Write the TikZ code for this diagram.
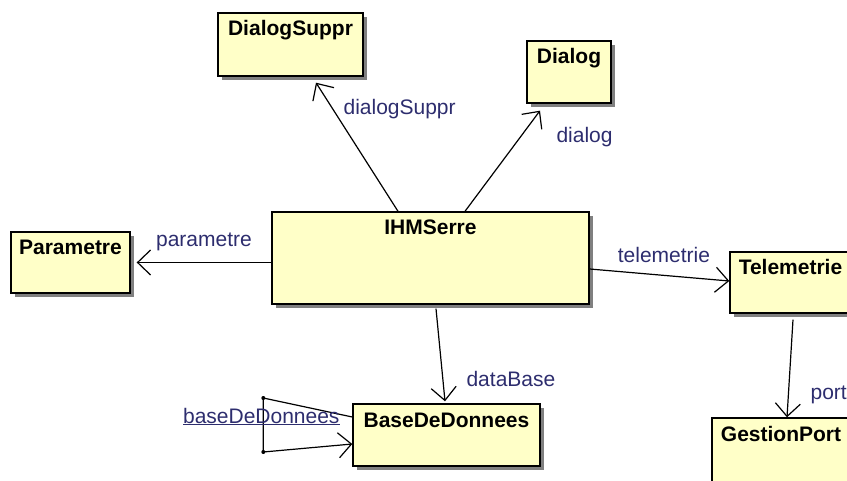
\documentclass[tikz,border=0pt]{standalone}
\usepackage{fontspec}
\setmainfont{Liberation Sans}
\usepackage{tikz}
\usetikzlibrary{arrows.meta,shadows}
\definecolor{jaune}{RGB}{255,255,200}
\definecolor{bleurole}{RGB}{45,45,110}
\tikzstyle{classe} = [draw=black, line width=1.4pt, fill=jaune, inner xsep=7pt, inner ysep=0pt, text height=23pt, font=\bfseries\fontsize{21}{25}\selectfont, drop shadow={shadow xshift=4pt, shadow yshift=-4pt, fill=black!50, opacity=1}]
\tikzstyle{role} = [inner sep=0pt, text=bleurole, font=\fontsize{21}{25}\selectfont]
\tikzstyle{coin} = [coordinate]

\begin{document}
\begin{tikzpicture}[x=1pt, y=-1pt, line width=1.2pt, >={Straight Barb[length=13pt,width=25pt]}]
		\useasboundingbox (0,0) rectangle (847,481);
		\clip (0,0) rectangle (847,481);

		\node [classe, minimum width=317pt, text depth=69pt] (IHMSerre) at (430.5,258) {IHMSerre};
		\node [classe, minimum width=145pt, text depth=40pt, above of=IHMSerre, node distance=213.5pt, xshift=-140pt] (DialogSuppr) {DialogSuppr};
		\node [classe, minimum width=84pt, text depth=39pt, above of=IHMSerre, node distance=186pt, xshift=138.5pt] (Dialog) {Dialog};
		\node [classe, minimum width=119pt, text depth=38pt, left of=IHMSerre, node distance=360pt, yshift=-4.5pt] (Parametre) {Parametre};
		\node [classe, minimum width=121pt, text depth=38pt, right of=IHMSerre, node distance=360pt, yshift=-24.5pt] (Telemetrie) {Telemetrie};
		\node [classe, minimum width=187pt, text depth=39pt, below of=IHMSerre, node distance=177pt, xshift=16pt] (BaseDeDonnees) {BaseDeDonnees};
		\node [classe, minimum width=138pt, text depth=54pt, below of=Telemetrie, node distance=174pt, xshift=-9.5pt] (GestionPort) {GestionPort};

		\coordinate [coin] (coinhaut) at ([xshift=-89pt, yshift=37pt]BaseDeDonnees.west);
		\coordinate [coin] (coinbas) at ([xshift=-89pt, yshift=-17pt]BaseDeDonnees.west);

		\draw [->] ([xshift=-32.5pt]IHMSerre.north) -- node[role, pos=0.754, anchor=base west, xshift=6.8pt] {dialogSuppr} ([xshift=25.5pt, yshift=-6pt]DialogSuppr.south);
		\draw [->] ([xshift=34.5pt]IHMSerre.north) -- node[role, pos=0.686, anchor=base west, xshift=39.5pt] {dialog} ([xshift=-29pt, yshift=-7pt]Dialog.south);
		\draw [->] ([yshift=-4.5pt]IHMSerre.west) -- node[role, pos=0.5, anchor=base, yshift=15.5pt] {parametre} ([xshift=6pt]Parametre.east);
		\draw [->] ([yshift=-11pt]IHMSerre.east) -- node[role, pos=0.532, anchor=base, yshift=12.4pt] {telemetrie} ([yshift=1.5pt]Telemetrie.west);
		\draw [->] ([xshift=2.5pt, yshift=-6pt]Telemetrie.south) -- node[role, pos=0.818, anchor=base west, xshift=21.9pt] {port} ([xshift=6pt]GestionPort.north);
		\draw [->] ([xshift=5.5pt, yshift=-4pt]IHMSerre.south) -- node[role, pos=0.84, anchor=base west, xshift=22.4pt] {dataBase} ([xshift=-1.5pt, yshift=2pt]BaseDeDonnees.north);

		\draw [->] ([yshift=18pt]BaseDeDonnees.west) -- (coinhaut) -- node[role, pos=0.463, anchor=base, xshift=-2pt] {\underline{baseDeDonnees}} (coinbas) -- ([yshift=-9pt]BaseDeDonnees.west);
		\fill (coinhaut) circle (2pt);
		\fill (coinbas) circle (2pt);
		
\end{tikzpicture}
\end{document}
